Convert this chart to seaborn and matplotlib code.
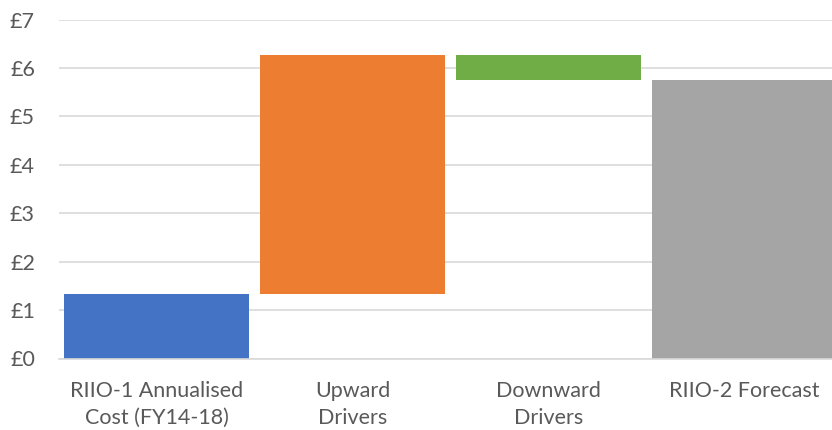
import numpy as np
import pandas as pd
import matplotlib
matplotlib.use("Agg")
import matplotlib.pyplot as plt
import seaborn as sns

# Waterfall steps (£)
categories = ["RIIO-1 Annualised\nCost (FY14-18)", "Upward\nDrivers", "Downward\nDrivers", "RIIO-2 Forecast"]
riio1_cost = 1.33
upward = 4.94
downward = -0.52
colors = ["#4472C4", "#ED7D31", "#70AD47", "#A5A5A5"]
y_ticks = [0, 1, 2, 3, 4, 5, 6, 7]
y_tick_labels = ["£0", "£1", "£2", "£3", "£4", "£5", "£6", "£7"]

forecast = riio1_cost + upward + downward
heights = [riio1_cost, upward, downward, forecast]
bases = [0, riio1_cost, riio1_cost + upward, 0]

df = pd.DataFrame({"category": categories, "height": heights, "base": bases})

sns.set_theme(style="white")
plt.rcParams["font.family"] = ["Lato", "DejaVu Sans"]

fig = plt.figure(figsize=(8.32, 4.30), dpi=100)
ax = fig.add_axes([58.5 / 832, 71.5 / 430, 784 / 832, 339 / 430])

sns.barplot(data=df, x="category", y="height", bottom=df["base"].to_numpy(),
            width=185 / 196, color=colors[0], saturation=1, ax=ax, zorder=2)
for patch, c in zip(ax.patches, colors):
    patch.set_facecolor(c)
    patch.set_edgecolor("none")

ax.set_ylim(0, 7)
ax.set_xlim(-0.5, len(categories) - 0.5)
ax.set_yticks(y_ticks)
ax.set_yticklabels(y_tick_labels)
ax.yaxis.grid(True, color="#D9D9D9", linewidth=1.2, zorder=0)
ax.set_axisbelow(True)
ax.set_xlabel("")
ax.set_ylabel("")

for s in ["top", "right", "left"]:
    ax.spines[s].set_visible(False)
ax.spines["bottom"].set_color("#D9D9D9")
ax.spines["bottom"].set_linewidth(1.2)

ax.tick_params(axis="x", length=0, pad=16, labelsize=15.5, labelcolor="#595959")
ax.tick_params(axis="y", length=0, pad=17, labelsize=15.5, labelcolor="#595959")
for lbl in ax.get_xticklabels():
    lbl.set_linespacing(1.45)
for lbl in ax.get_yticklabels():
    lbl.set_horizontalalignment("right")

fig.savefig("out.png", dpi=100)
